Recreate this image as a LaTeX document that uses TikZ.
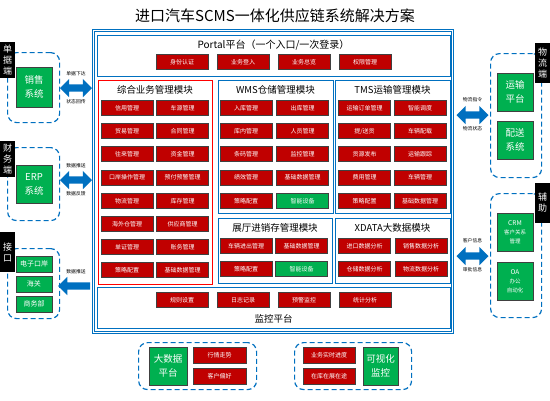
\documentclass[tikz,border=0pt]{standalone}
\usepackage{fontspec}
\newfontfamily\cjk{Noto Sans CJK SC}
\usetikzlibrary{shapes.arrows,positioning}
\definecolor{frameblue}{HTML}{0070C0}
\definecolor{btnred}{HTML}{C00000}
\definecolor{btngreen}{HTML}{00B050}
\tikzset{
  btn/.style={draw=black!75, line width=0.9pt, fill=btnred, text=white,
    minimum width=52pt, minimum height=15pt, inner sep=0pt,
    font=\cjk\fontsize{6}{7}\selectfont},
  gbtn/.style={btn, fill=btngreen},
  sysbox/.style={draw=black!75, line width=0.9pt, fill=btngreen, text=white,
    inner sep=0pt, align=center, font=\cjk\fontsize{9.5}{14}\selectfont},
  smallsys/.style={sysbox, font=\cjk\fontsize{5.5}{9}\selectfont},
  modbox/.style={draw=frameblue, line width=1.3pt, inner sep=0pt, anchor=north west},
  modtitle/.style={font=\cjk\fontsize{9.5}{11}\selectfont, inner sep=0pt},
  groupbox/.style={draw=frameblue, line width=1.2pt, dash pattern=on 5pt off 3pt,
    rounded corners=9pt, inner sep=0pt, anchor=north west},
  tag/.style={fill=black, text=white, inner sep=0pt, minimum width=15pt,
    align=center, font=\cjk\fontsize{9}{11}\selectfont},
  biarrow/.style={double arrow, fill=frameblue, inner sep=3.5pt,
    double arrow head extend=5.5pt, minimum height=32pt},
  leftarrow/.style={single arrow, fill=frameblue, inner sep=3.5pt,
    single arrow head extend=5.5pt, minimum height=32pt, shape border rotate=180},
  flowlabel/.style={font=\cjk\fontsize{4.8}{5}\selectfont, inner sep=0pt},
}
\begin{document}
\begin{tikzpicture}[x=1pt, y=-1pt]
  \useasboundingbox[fill=white] (0,0) rectangle (550,400);
  \node[font=\cjk\fontsize{15}{17}\selectfont] (title) at (275,16)
    {进口汽车SCMS一体化供应链系统解决方案};

  % main frame and modules
  \node[modbox, line width=1pt, double=white, double distance=1.2pt,
    minimum width=359pt, minimum height=302pt] (outer) at (93,30) {};
  \node[modbox, minimum width=353pt, minimum height=41pt] (portal) at (97,35) {};
  \node[modbox, draw=red, minimum width=114pt, minimum height=204pt] (zh) at (98,80) {};
  \node[modbox, minimum width=115pt, minimum height=133pt] (wms) at (218,80) {};
  \node[modbox, minimum width=115pt, minimum height=133pt] (tms) at (335,80) {};
  \node[modbox, minimum width=114pt, minimum height=65pt] (zt) at (218,218) {};
  \node[modbox, minimum width=115pt, minimum height=65pt] (xd) at (335,218) {};
  \node[modbox, minimum width=353pt, minimum height=41pt] (monitor) at (97,287) {};

  \node[modtitle, font=\cjk\fontsize{10}{11}\selectfont] (portal title) at (273.5,45)
    {Portal平台（一个入口/一次登录）};
  \node[modtitle] (zh title) at (155,90) {综合业务管理模块};
  \node[modtitle] (wms title) at (275.5,90) {WMS仓储管理模块};
  \node[modtitle] (tms title) at (392.5,90) {TMS运输管理模块};
  \node[modtitle] (zt title) at (275,228) {展厅进销存管理模块};
  \node[modtitle] (xd title) at (392.5,228) {XDATA大数据模块};
  \node[modtitle] (monitor title) at (273.5,319) {监控平台};

  \foreach \txt [count=\i from 0] in {身份认证,业务登入,业务总览,权限管理}
    \node[btn] (portal-\i) at (182+61*\i,62) {\txt};
  \foreach \txt [count=\i from 0] in {规则设置,日志记录,预警监控,统计分析}
    \node[btn] (monitor-\i) at (182+61*\i,300) {\txt};

  \foreach \txt [count=\i from 0] in {信用管理,车源管理,贸易管理,合同管理,
      往来管理,资金管理,口岸操作管理,预付预警管理,物流管理,库存管理,
      海外仓管理,供应商管理,单证管理,账务管理,策略配置,基础数据管理}{
    \pgfmathsetmacro\cx{127+55.5*mod(\i,2)}
    \pgfmathsetmacro\cy{108+23.2*int(\i/2)}
    \node[btn] (zh-\i) at (\cx,\cy) {\txt};
  }
  \foreach \txt/\sty [count=\i from 0] in {入库管理/btn,出库管理/btn,库内管理/btn,
      人员管理/btn,条码管理/btn,监控管理/btn,绩效管理/btn,基础数据管理/btn,
      策略配置/btn,智能设备/gbtn}{
    \pgfmathsetmacro\cx{246+56.5*mod(\i,2)}
    \pgfmathsetmacro\cy{108+23.2*int(\i/2)}
    \node[\sty] (wms-\i) at (\cx,\cy) {\txt};
  }
  \foreach \txt [count=\i from 0] in {运输订单管理,智能调度,提/送货,车辆配载,
      货源发布,运输跟踪,费用管理,车辆管理,策略配置,基础数据管理}{
    \pgfmathsetmacro\cx{364.5+55.5*mod(\i,2)}
    \pgfmathsetmacro\cy{108+23.2*int(\i/2)}
    \node[btn] (tms-\i) at (\cx,\cy) {\txt};
  }
  \foreach \txt/\sty [count=\i from 0] in {车辆进出管理/btn,基础数据管理/btn,
      策略配置/btn,智能设备/gbtn}{
    \pgfmathsetmacro\cx{246+55.5*mod(\i,2)}
    \pgfmathsetmacro\cy{246+23*int(\i/2)}
    \node[\sty] (zt-\i) at (\cx,\cy) {\txt};
  }
  \foreach \txt [count=\i from 0] in {进口数据分析,销售数据分析,仓储数据分析,物流数据分析}{
    \pgfmathsetmacro\cx{364.5+56.5*mod(\i,2)}
    \pgfmathsetmacro\cy{246+23*int(\i/2)}
    \node[btn] (xd-\i) at (\cx,\cy) {\txt};
  }

  % left side systems
  \node[groupbox, minimum width=52pt, minimum height=70pt] (g sale) at (7,52) {};
  \node[groupbox, minimum width=52pt, minimum height=73pt] (g erp) at (7,147) {};
  \node[groupbox, minimum width=52pt, minimum height=70pt] (g port) at (7,248) {};
  \node[tag, minimum height=36pt] (tag sale) at (7.5,60) {单\\据\\端};
  \node[tag, minimum height=36pt] (tag erp) at (7.5,159) {财\\务\\端};
  \node[tag, minimum height=40pt] (tag port) at (7.5,252) {接\\口};
  \node[sysbox, minimum width=36pt, minimum height=40pt] (sale) at (34,87) {销售\\系统};
  \node[sysbox, minimum width=36pt, minimum height=38pt] (erp) at (34,184) {ERP\\系统};
  \node[sysbox, font=\cjk\fontsize{7}{8}\selectfont, minimum width=36pt,
    minimum height=16pt] (eport) at (34,264) {电子口岸};
  \node[sysbox, font=\cjk\fontsize{7}{8}\selectfont, minimum width=36pt,
    minimum height=16pt] (customs) at (34,284) {海关};
  \node[sysbox, font=\cjk\fontsize{7}{8}\selectfont, minimum width=36pt,
    minimum height=16pt] (mofcom) at (34,304) {商务部};

  \node[biarrow] (arr sale) at (76,88) {};
  \node[flowlabel, above=8.5pt of arr sale] {单据下达};
  \node[flowlabel, below=7.5pt of arr sale] {状态回传};
  \node[biarrow] (arr erp) at (76,180) {};
  \node[flowlabel, above=8.5pt of arr erp] {数据推送};
  \node[flowlabel, below=7.5pt of arr erp] {数据反馈};
  \node[leftarrow] (arr port) at (76,286) {};
  \node[flowlabel, above=8.5pt of arr port] {数据推送};

  % right side systems
  \node[groupbox, minimum width=51pt, minimum height=124pt] (g logi) at (490,53) {};
  \node[groupbox, minimum width=51pt, minimum height=124pt] (g aux) at (490,193) {};
  \node[tag, minimum height=40pt] (tag logi) at (542.5,63) {物\\流\\端};
  \node[tag, minimum height=40pt] (tag aux) at (542.5,203) {辅\\助};
  \node[sysbox, minimum width=36pt, minimum height=38pt] (tp) at (515,92) {运输\\平台};
  \node[sysbox, minimum width=36pt, minimum height=38pt] (ps) at (515,140) {配送\\系统};
  \node[smallsys, minimum width=36pt, minimum height=38pt] (crm) at (515,232)
    {{\fontsize{6.5}{9}\selectfont CRM}\\客户关系\\管理};
  \node[smallsys, minimum width=36pt, minimum height=38pt] (oa) at (515,281)
    {{\fontsize{6.5}{9}\selectfont OA}\\办公\\自动化};

  \node[biarrow] (arr logi) at (472.5,115) {};
  \node[flowlabel, above=9pt of arr logi] {物流指令};
  \node[flowlabel, below=7pt of arr logi] {物流状态};
  \node[biarrow] (arr aux) at (472.5,256) {};
  \node[flowlabel, above=9pt of arr aux] {客户信息};
  \node[flowlabel, below=7pt of arr aux] {审批信息};

  % bottom groups
  \node[groupbox, minimum width=118pt, minimum height=47pt] (g data) at (138,342) {};
  \node[groupbox, minimum width=117pt, minimum height=47pt] (g vis) at (294,342) {};
  \node[sysbox, minimum width=38pt, minimum height=38pt] (bigdata) at (168,366) {大数据\\平台};
  \node[btn, minimum width=53pt, minimum height=16pt] (trend) at (219.5,355) {行情走势};
  \node[btn, minimum width=53pt, minimum height=16pt] (pref) at (219.5,376) {客户偏好};
  \node[btn, minimum width=52pt, minimum height=16pt] (progress) at (329,355) {业务实时进度};
  \node[btn, minimum width=52pt, minimum height=16pt] (stock) at (329,376) {在库在展在途};
  \node[sysbox, minimum width=35pt, minimum height=38pt] (visual) at (380.5,366) {可视化\\监控};
\end{tikzpicture}
\end{document}
